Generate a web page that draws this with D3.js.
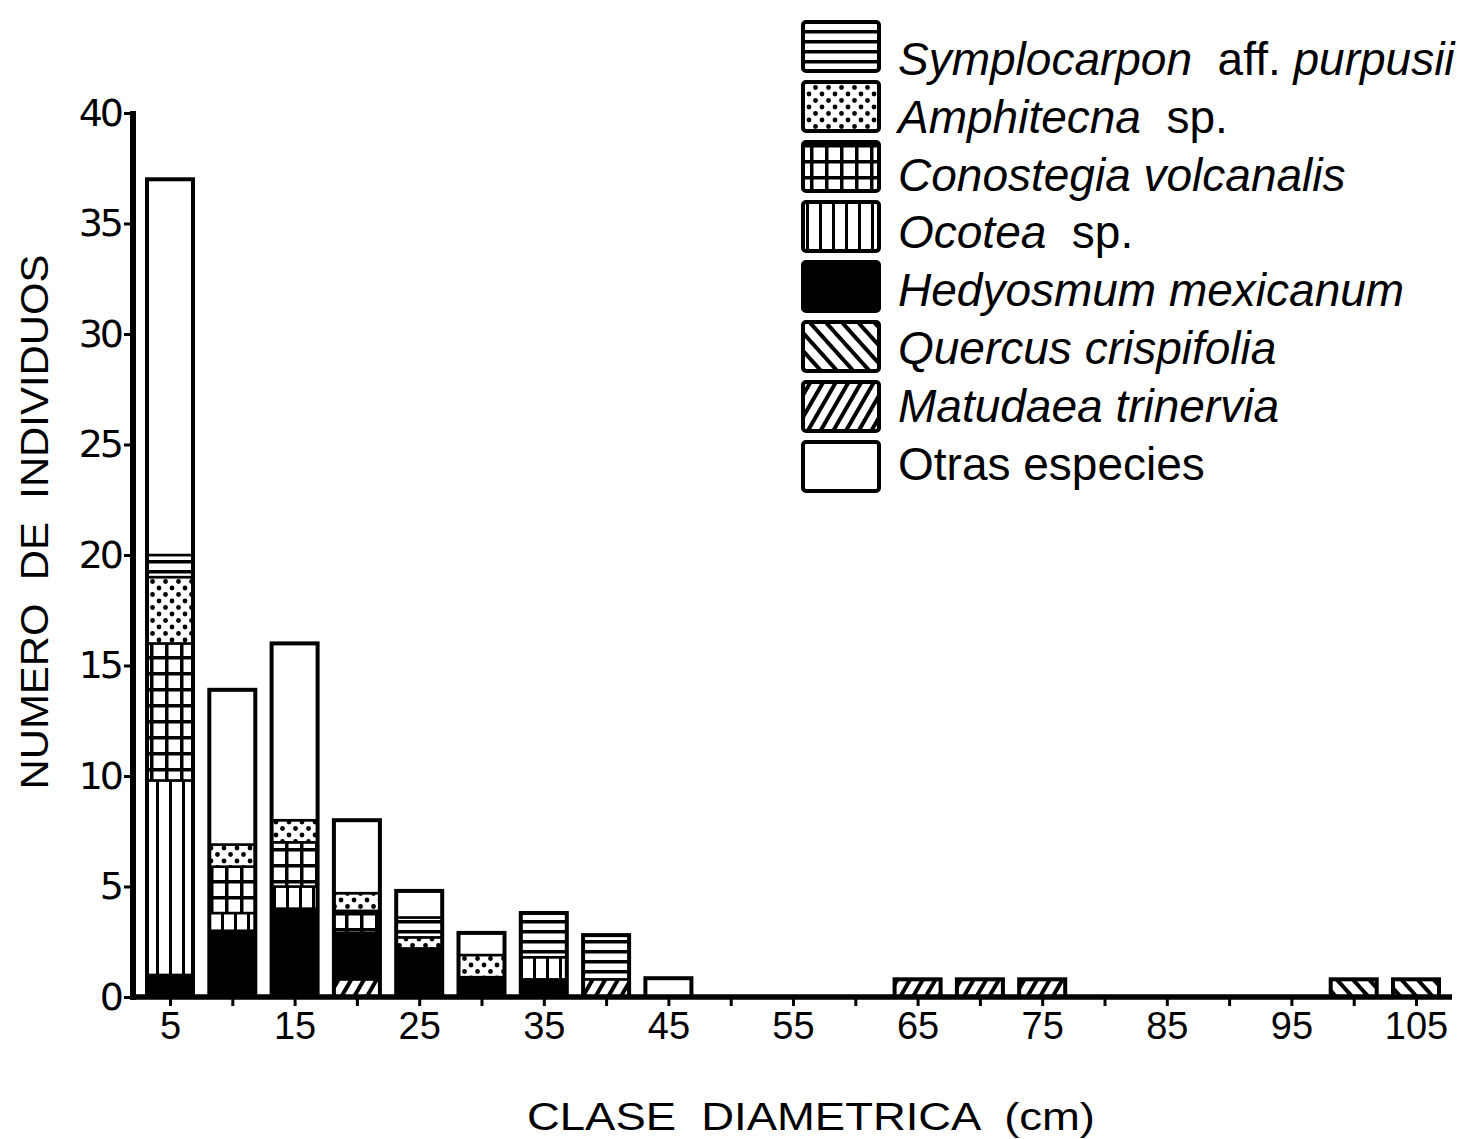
<!DOCTYPE html>
<html><head><meta charset="utf-8">
<script src="https://cdn.jsdelivr.net/npm/d3@7"></script>
<style>body{margin:0;background:#fff}svg{display:block}text{white-space:pre}</style>
</head><body>
<svg id="c" width="1474" height="1139"></svg>
<script>
// ---- data ----
const classes = [5,10,15,20,25,30,35,40,45,50,55,60,65,70,75,80,85,90,95,100,105];
const matudaea     = [0,0,0,0.8,0,0,0,0.8,0,0,0,0,0.8,0.8,0.8,0,0,0,0,0,0];
const quercus      = [0,0,0,0,0,0,0,0,0,0,0,0,0,0,0,0,0,0,0,0.8,0.8];
const hedyosmum    = [1,3,4,2.1,2.2,0.9,0.8,0,0,0,0,0,0,0,0,0,0,0,0,0,0];
const ocotea       = [8.8,0.8,1,0,0,0,1,0,0,0,0,0,0,0,0,0,0,0,0,0,0];
const conostegia   = [6.2,2.1,2,1,0,0,0,0,0,0,0,0,0,0,0,0,0,0,0,0,0];
const amphitecna   = [3,1,1,0.8,0.5,1,0,0,0,0,0,0,0,0,0,0,0,0,0,0,0];
const symplocarpon = [1,0,0,0,0.9,0,2,2,0,0,0,0,0,0,0,0,0,0,0,0,0];
const otras        = [17,7,8,3.3,1.2,1,0,0,0.85,0,0,0,0,0,0,0,0,0,0,0,0];
const yTicks = [0,5,10,15,20,25,30,35,40];
const xTickLabels = [5,15,25,35,45,55,65,75,85,95,105];

const keys = ["matudaea","quercus","hedyosmum","ocotea","conostegia","amphitecna","symplocarpon","otras"];
const series = {matudaea,quercus,hedyosmum,ocotea,conostegia,amphitecna,symplocarpon,otras};
const legendItems = [
  {key:"symplocarpon", parts:[["Symplocarpon",1],["  aff. ",0],["purpusii",1]]},
  {key:"amphitecna", parts:[["Amphitecna",1],["  sp.",0]]},
  {key:"conostegia", parts:[["Conostegia volcanalis",1]]},
  {key:"ocotea", parts:[["Ocotea",1],["  sp.",0]]},
  {key:"hedyosmum", parts:[["Hedyosmum mexicanum",1]]},
  {key:"quercus", parts:[["Quercus crispifolia",1]]},
  {key:"matudaea", parts:[["Matudaea trinervia",1]]},
  {key:"otras", parts:[["Otras especies",0]]}
];

const table = classes.map((c,i)=>{const o={c}; keys.forEach(k=>o[k]=series[k][i]); return o;});

const svg = d3.select("#c");
const defs = svg.append("defs");

function pat(id,w,h,draw,transform){
  const p = defs.append("pattern").attr("id",id).attr("patternUnits","userSpaceOnUse")
    .attr("width",w).attr("height",h);
  if(transform) p.attr("patternTransform",transform);
  p.append("rect").attr("width",w).attr("height",h).attr("fill","#fff");
  draw(p);
}
pat("p-symplocarpon",10,10,p=>p.append("rect").attr("y",0).attr("width",10).attr("height",3.5).attr("fill","#000"));
pat("p-amphitecna",13,13,p=>{
  p.append("circle").attr("cx",3).attr("cy",3).attr("r",2.4).attr("fill","#000");
  p.append("circle").attr("cx",9.5).attr("cy",9.5).attr("r",2.4).attr("fill","#000");
});
pat("p-conostegia",15,16,p=>{
  p.append("rect").attr("x",0).attr("width",3.5).attr("height",16).attr("fill","#000");
  p.append("rect").attr("y",0).attr("width",15).attr("height",3.5).attr("fill","#000");
});
pat("p-ocotea",13,10,p=>p.append("rect").attr("x",0).attr("width",3).attr("height",10).attr("fill","#000"));
pat("p-matudaea",11,10,p=>p.append("rect").attr("x",0).attr("width",4).attr("height",10).attr("fill","#000"),"rotate(30)");
pat("p-quercus",12,10,p=>p.append("rect").attr("x",0).attr("width",4).attr("height",10).attr("fill","#000"),"rotate(-42)");
const fillOf = k => k==="hedyosmum" ? "#000" : k==="otras" ? "#fff" : `url(#p-${k})`;

// ---- scales ----
const x = d3.scaleLinear().domain([5,105]).range([170,1416]);
const y = d3.scaleLinear().domain([0,40]).range([997,113]);
const barW = 46;

const stack = d3.stack().keys(keys)(table);

const gBars = svg.append("g");
stack.forEach(s=>{
  gBars.append("g").selectAll("rect").data(s.filter(d=>d[1]-d[0]>0)).join("rect")
    .attr("x",d=>x(d.data.c)-barW/2).attr("width",barW)
    .attr("y",d=>y(d[1])).attr("height",d=>y(d[0])-y(d[1]))
    .attr("fill",fillOf(s.key)).attr("stroke","#000").attr("stroke-width",2.5);
});
// bar outlines
const totals = table.map(d=>({c:d.c,t:d3.sum(keys,k=>d[k])})).filter(d=>d.t>0);
gBars.append("g").selectAll("rect").data(totals).join("rect")
  .attr("x",d=>x(d.c)-barW/2).attr("width",barW)
  .attr("y",d=>y(d.t)).attr("height",d=>y(0)-y(d.t))
  .attr("fill","none").attr("stroke","#000").attr("stroke-width",4);

// ---- axes ----
const yAxis = d3.axisLeft(y).tickValues(yTicks).tickSize(9).tickPadding(3);
const gy = svg.append("g").attr("transform","translate(133,0)").call(yAxis);
gy.select(".domain").remove();
gy.selectAll(".tick line").attr("stroke","#000").attr("stroke-width",3);
gy.selectAll(".tick text").attr("font-family","DejaVu Sans").attr("font-size",38).attr("fill","#000")
  .attr("letter-spacing",-3);
svg.append("line").attr("x1",133).attr("x2",133).attr("y1",y(40)-2).attr("y2",y(0)+3)
  .attr("stroke","#000").attr("stroke-width",6);

const xAxis = d3.axisBottom(x).tickValues(classes).tickSize(9).tickFormat(d=>xTickLabels.includes(d)?d:"").tickPadding(6);
const gx = svg.append("g").attr("transform","translate(0,997)").call(xAxis);
gx.select(".domain").remove();
gx.selectAll(".tick line").attr("stroke","#000").attr("stroke-width",3);
gx.selectAll(".tick text").attr("font-family","'Liberation Sans Narrow','Liberation Sans'").attr("font-size",38).attr("fill","#000");
svg.append("line").attr("x1",130).attr("x2",1452).attr("y1",y(0)).attr("y2",y(0))
  .attr("stroke","#000").attr("stroke-width",5.5);

// axis titles
svg.append("text").attr("transform","translate(48,522) rotate(-90)").attr("text-anchor","middle")
  .attr("font-family","'Liberation Sans Narrow','Liberation Sans'").attr("font-size",38)
  .attr("textLength",535).attr("lengthAdjust","spacingAndGlyphs")
  .text("NUMERO  DE  INDIVIDUOS");
svg.append("text").attr("x",811).attr("y",1130).attr("text-anchor","middle")
  .attr("font-family","'Liberation Sans Narrow','Liberation Sans'").attr("font-size",38)
  .attr("textLength",568).attr("lengthAdjust","spacingAndGlyphs")
  .text("CLASE  DIAMETRICA  (cm)");

// ---- legend ----
const lg = svg.append("g");
legendItems.forEach((it,i)=>{
  const top = 22 + i*60;
  lg.append("rect").attr("x",803).attr("y",top).attr("width",76).attr("height",49).attr("rx",3)
    .attr("fill",fillOf(it.key)).attr("stroke","#000").attr("stroke-width",4);
  const t = lg.append("text").attr("x",898).attr("y",75 + i*57.8)
    .attr("font-family","'Liberation Sans'").attr("font-size",46).attr("fill","#000");
  it.parts.forEach(([s,ital])=>t.append("tspan").attr("font-style",ital?"italic":"normal").text(s));
});
</script>
</body></html>
